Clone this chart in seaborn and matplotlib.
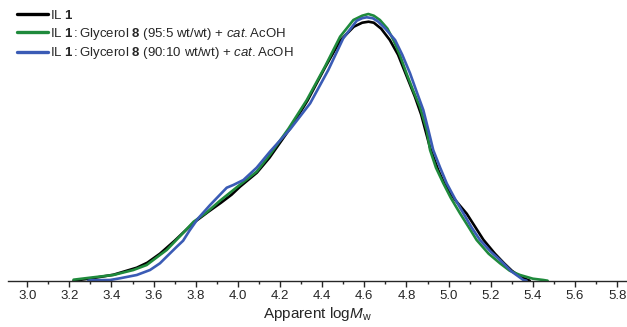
import numpy as np
import pandas as pd
import matplotlib
matplotlib.use("Agg")
import matplotlib.pyplot as plt
from matplotlib.ticker import MultipleLocator
import seaborn as sns

# apparent logMw vs detector signal (arbitrary units)
logmw_il1 = [3.22, 3.31, 3.41, 3.52, 3.57, 3.63, 3.70, 3.79, 3.86, 3.92, 3.97, 4.01,
             4.09, 4.15, 4.25, 4.33, 4.413, 4.485, 4.55, 4.59, 4.62, 4.645, 4.68,
             4.721, 4.76, 4.80, 4.84, 4.87, 4.912, 4.95, 4.98, 5.03, 5.086, 5.165,
             5.22, 5.263, 5.30, 5.339, 5.385]
signal_il1 = [0, 2.5, 6, 13, 18, 27, 40, 58, 69, 78, 86, 94,
              108, 123, 153, 180, 213, 240, 254, 258, 259, 258, 252,
              240.7, 226, 205, 184, 166, 133, 111, 97, 81, 67, 41,
              27, 17.5, 10, 4, 0]

logmw_95 = [3.22, 3.314, 3.409, 3.504, 3.567, 3.63, 3.662, 3.70, 3.75, 3.79, 3.85, 3.915,
            4.01, 4.089, 4.152, 4.24, 4.327, 4.413, 4.485, 4.548, 4.59, 4.619, 4.645,
            4.674, 4.71, 4.738, 4.77, 4.80, 4.832, 4.864, 4.896, 4.912, 4.94, 4.975,
            5.01, 5.054, 5.10, 5.133, 5.19, 5.244, 5.29, 5.339, 5.40, 5.45, 5.47]
signal_95 = [1, 3.4, 5.7, 10.7, 15.7, 25.7, 30.7, 39, 50, 59, 68, 80,
             96, 109, 126, 152, 180.7, 214, 244, 260.7, 265, 266.7, 265,
             260.7, 252, 240.7, 225, 207.4, 190, 174, 150.7, 130.7, 113, 97.4,
             83, 67.4, 52, 40.7, 27, 17.4, 10, 5.7, 2, 0.7, 0]

logmw_90 = [3.29, 3.306, 3.393, 3.44, 3.52, 3.583, 3.63, 3.678, 3.71, 3.74, 3.77, 3.81,
            3.868, 3.947, 3.978, 4.026, 4.089, 4.152, 4.25, 4.343, 4.429, 4.50, 4.564,
            4.59, 4.611, 4.64, 4.666, 4.70, 4.746, 4.78, 4.817, 4.85, 4.88, 4.904,
            4.927, 4.96, 4.991, 5.03, 5.07, 5.11, 5.149, 5.20, 5.244, 5.30, 5.355, 5.37]
signal_90 = [0, 0.5, 0.7, 2.4, 5.7, 10.7, 17.4, 27.4, 34, 40, 50, 62,
             75.7, 93, 95.7, 100.7, 113, 129, 152, 177.4, 210.7, 242.4, 260,
             262.5, 263.4, 262.5, 259, 252, 240.7, 226, 207.4, 188, 170.7, 150.7,
             130.7, 113, 97.4, 82, 67.4, 53, 40.7, 29, 20.7, 9, 0.7, 0]

labels = [r"IL $\mathbf{1}$",
          r"IL $\mathbf{1}$$\,$:$\,$Glycerol $\mathbf{8}$ (95:5 wt/wt) + $\it{cat.}$AcOH",
          r"IL $\mathbf{1}$$\,$:$\,$Glycerol $\mathbf{8}$ (90:10 wt/wt) + $\it{cat.}$AcOH"]
colors = ["#000000", "#1f8a3c", "#3a5bb5"]

df = pd.concat([
    pd.DataFrame({"logMw": logmw_il1, "signal": signal_il1, "sample": labels[0]}),
    pd.DataFrame({"logMw": logmw_95, "signal": signal_95, "sample": labels[1]}),
    pd.DataFrame({"logMw": logmw_90, "signal": signal_90, "sample": labels[2]}),
])

sns.set_style("white")
plt.rcParams["font.family"] = ["Liberation Sans", "DejaVu Sans"]
plt.rcParams["mathtext.fontset"] = "custom"
plt.rcParams["mathtext.rm"] = "Liberation Sans"
plt.rcParams["mathtext.it"] = "Liberation Sans:italic"
plt.rcParams["mathtext.bf"] = "Liberation Sans:bold"

fig = plt.figure(figsize=(6.27, 3.27), dpi=100)
ax = fig.add_axes([8 / 627, 1 - 280.7 / 327, 1 - 8 / 627, 280.7 / 327])

sns.lineplot(data=df, x="logMw", y="signal", hue="sample", palette=colors,
             sort=False, estimator=None, linewidth=1.9, ax=ax)

ax.set_xlim(3.0 - 19.2 / 210.7, 3.0 + (627 - 27.2) / 210.7)
ax.set_ylim(0, 280.7)
for s in ["left", "right", "top"]:
    ax.spines[s].set_visible(False)
ax.spines["bottom"].set_linewidth(1.0)
ax.set_yticks([])
ax.xaxis.set_minor_locator(MultipleLocator(0.1))
ticks = np.round(np.arange(3.0, 5.81, 0.2), 1)
ax.set_xticks(ticks)
ax.set_xticklabels([f"{v:.1f}" for v in ticks])
ax.tick_params(axis="x", which="major", direction="out", length=4, width=1,
               labelsize=9.5, pad=3, bottom=True)
ax.tick_params(axis="x", which="minor", direction="out", length=2.5, width=1, bottom=True)
ax.set_xlabel(r"Apparent log$M_{\rm w}$", fontsize=11, labelpad=2)
ax.set_ylabel("")

leg = ax.legend(loc="upper left", bbox_to_anchor=(0.0, 1.0), frameon=False,
                fontsize=9.5, handlelength=2.4, handletextpad=0.15, labelspacing=0.3,
                borderaxespad=0.35, borderpad=0.3)
for line in leg.get_lines():
    line.set_linewidth(2.4)

fig.savefig("out.png", dpi=100)
